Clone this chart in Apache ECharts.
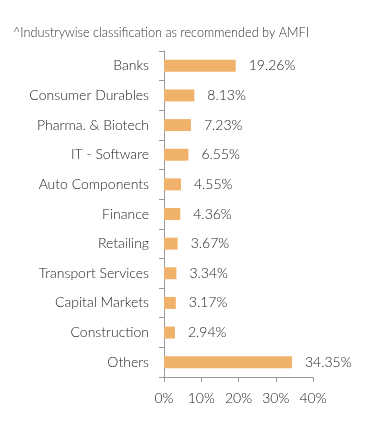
<!DOCTYPE html>
<html><head><meta charset="utf-8">
<script src="https://cdn.jsdelivr.net/npm/echarts@6/dist/echarts.min.js"></script>
<style>html,body{margin:0;padding:0;background:#fff}#c{width:391px;height:435px}</style>
</head><body><div id="c"></div>
<script>
const categories = ["Banks","Consumer Durables","Pharma. & Biotech","IT - Software","Auto Components","Finance","Retailing","Transport Services","Capital Markets","Construction","Others"];
const values = [19.26,8.13,7.23,6.55,4.55,4.36,3.67,3.34,3.17,2.94,34.35];
const xTicks = [0,10,20,30,40];
const title = "^Industrywise classification as recommended by AMFI";

const chart = echarts.init(document.getElementById('c'));
chart.setOption({
  animation:false,
  textStyle:{fontFamily:'Lato'},
  title:{text:title,left:8,top:21,textStyle:{fontFamily:'Lato',fontSize:12.7,fontWeight:300,color:'#333'}},
  grid:{left:164,right:78,top:51,bottom:58,containLabel:false},
  xAxis:{type:'value',min:xTicks[0],max:xTicks[xTicks.length-1],interval:10,
    axisLine:{show:true,lineStyle:{color:'#999'}},
    axisTick:{show:true,length:5,lineStyle:{color:'#999'}},
    splitLine:{show:false},
    axisLabel:{formatter:'{value}%',color:'#222',fontSize:14,fontWeight:300,margin:14}},
  yAxis:{type:'category',data:categories,inverse:true,
    axisLine:{lineStyle:{color:'#999'}},
    axisTick:{show:true,length:5,lineStyle:{color:'#999'}},
    axisLabel:{color:'#222',fontSize:14,fontWeight:300,margin:15}},
  series:[{type:'bar',data:values,barWidth:12,itemStyle:{color:'#F0B26B'},
    label:{show:true,position:'right',distance:13,formatter:p=>p.value.toFixed(2)+'%',color:'#222',fontSize:14,fontWeight:300}}]
});
</script></body></html>
